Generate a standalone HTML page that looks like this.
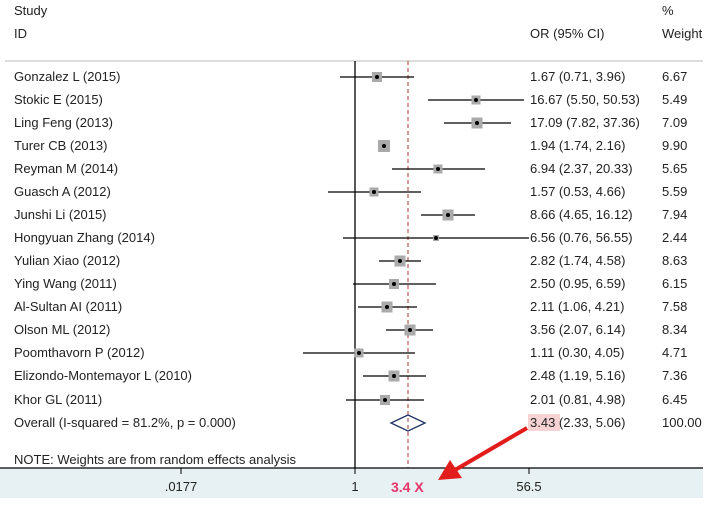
<!DOCTYPE html>
<html><head><meta charset="utf-8"><style>
html,body{margin:0;padding:0;background:#fff;}
svg text{font-family:"Liberation Sans",Arial,sans-serif;font-size:13px;fill:#222;}
</style></head><body>
<svg width="727" height="507" viewBox="0 0 727 507" xmlns="http://www.w3.org/2000/svg">
<rect x="0" y="468" width="703" height="30" fill="#e7f0f2"/>
<text x="14" y="15">Study</text>
<text x="14" y="38">ID</text>
<text x="662" y="15">%</text>
<text x="530" y="38">OR (95% CI)</text>
<text x="662" y="38">Weight</text>
<line x1="5" y1="61" x2="703" y2="61" stroke="#bbb" stroke-width="1"/>
<line x1="355" y1="61" x2="355" y2="468" stroke="#000" stroke-width="1.3"/>
<line x1="408" y1="61" x2="408" y2="468" stroke="#a33" stroke-width="1" stroke-dasharray="4,3"/>
<line x1="0" y1="468" x2="703" y2="468" stroke="#000" stroke-width="1.2"/>
<line x1="181" y1="468" x2="181" y2="474" stroke="#000"/>
<line x1="355" y1="468" x2="355" y2="474" stroke="#000"/>
<line x1="529" y1="468" x2="529" y2="474" stroke="#000"/>
<text x="181" y="491" text-anchor="middle">.0177</text>
<text x="355" y="491" text-anchor="middle">1</text>
<text x="529" y="491" text-anchor="middle">56.5</text>
<text x="391" y="492" style="fill:#e8336a;font-size:14px;font-weight:bold">3.4 X</text>
<g stroke="#000" stroke-width="1.2">
<line x1="340" y1="77" x2="414" y2="77"/>
<line x1="428" y1="100" x2="524" y2="100"/>
<line x1="444" y1="123" x2="511" y2="123"/>
<line x1="379" y1="146" x2="388" y2="146"/>
<line x1="392" y1="169" x2="485" y2="169"/>
<line x1="328" y1="192" x2="421" y2="192"/>
<line x1="421" y1="215" x2="475" y2="215"/>
<line x1="343" y1="238" x2="529" y2="238"/>
<line x1="379" y1="261" x2="421" y2="261"/>
<line x1="353" y1="284" x2="436" y2="284"/>
<line x1="358" y1="307" x2="417" y2="307"/>
<line x1="386" y1="330" x2="433" y2="330"/>
<line x1="303" y1="353" x2="415" y2="353"/>
<line x1="363" y1="376" x2="426" y2="376"/>
<line x1="346" y1="400" x2="424" y2="400"/>
</g>
<g fill="#aaa">
<rect x="372" y="72" width="10" height="10"/>
<rect x="471.5" y="95.5" width="9" height="9"/>
<rect x="471.5" y="117.5" width="11" height="11"/>
<rect x="378" y="140" width="12" height="12"/>
<rect x="433.5" y="164.5" width="9" height="9"/>
<rect x="369.5" y="187.5" width="9" height="9"/>
<rect x="442.5" y="209.5" width="11" height="11"/>
<rect x="433" y="235" width="6" height="6"/>
<rect x="394.5" y="255.5" width="11" height="11"/>
<rect x="389" y="279" width="10" height="10"/>
<rect x="381.5" y="301.5" width="11" height="11"/>
<rect x="404.5" y="324.5" width="11" height="11"/>
<rect x="354.5" y="348.5" width="9" height="9"/>
<rect x="388.5" y="370.5" width="11" height="11"/>
<rect x="380" y="395" width="10" height="10"/>
</g>
<g fill="#000">
<circle cx="377" cy="77" r="2"/><circle cx="476" cy="100" r="2"/><circle cx="477" cy="123" r="2"/>
<circle cx="384" cy="146" r="2"/><circle cx="438" cy="169" r="2"/><circle cx="374" cy="192" r="2"/>
<circle cx="448" cy="215" r="2"/><circle cx="436" cy="238" r="2"/><circle cx="400" cy="261" r="2"/>
<circle cx="394" cy="284" r="2"/><circle cx="387" cy="307" r="2"/><circle cx="410" cy="330" r="2"/>
<circle cx="359" cy="353" r="2"/><circle cx="394" cy="376" r="2"/><circle cx="385" cy="400" r="2"/>
</g>
<polygon points="391,423 408,415 425,423 408,431" fill="none" stroke="#223366" stroke-width="1.3"/>
<g>
<text x="14" y="81">Gonzalez L  (2015)</text>
<text x="14" y="104">Stokic E (2015)</text>
<text x="14" y="127">Ling Feng (2013)</text>
<text x="14" y="150">Turer CB  (2013)</text>
<text x="14" y="173">Reyman M  (2014)</text>
<text x="14" y="196">Guasch A  (2012)</text>
<text x="14" y="219">Junshi Li (2015)</text>
<text x="14" y="242">Hongyuan Zhang (2014)</text>
<text x="14" y="265">Yulian Xiao (2012)</text>
<text x="14" y="288">Ying Wang (2011)</text>
<text x="14" y="311">Al-Sultan AI (2011)</text>
<text x="14" y="334">Olson ML  (2012)</text>
<text x="14" y="357">Poomthavorn P  (2012)</text>
<text x="14" y="380">Elizondo-Montemayor L (2010)</text>
<text x="14" y="404">Khor GL  (2011)</text>
<text x="14" y="427">Overall  (I-squared = 81.2%, p = 0.000)</text>
<text x="14" y="464">NOTE: Weights are from random effects analysis</text>
</g>
<rect x="528" y="414" width="32" height="17" fill="#f8d3d3"/>
<g>
<text x="530" y="81">1.67 (0.71, 3.96)</text><text x="662" y="81">6.67</text>
<text x="530" y="104">16.67 (5.50, 50.53)</text><text x="662" y="104">5.49</text>
<text x="530" y="127">17.09 (7.82, 37.36)</text><text x="662" y="127">7.09</text>
<text x="530" y="150">1.94 (1.74, 2.16)</text><text x="662" y="150">9.90</text>
<text x="530" y="173">6.94 (2.37, 20.33)</text><text x="662" y="173">5.65</text>
<text x="530" y="196">1.57 (0.53, 4.66)</text><text x="662" y="196">5.59</text>
<text x="530" y="219">8.66 (4.65, 16.12)</text><text x="662" y="219">7.94</text>
<text x="530" y="242">6.56 (0.76, 56.55)</text><text x="662" y="242">2.44</text>
<text x="530" y="265">2.82 (1.74, 4.58)</text><text x="662" y="265">8.63</text>
<text x="530" y="288">2.50 (0.95, 6.59)</text><text x="662" y="288">6.15</text>
<text x="530" y="311">2.11 (1.06, 4.21)</text><text x="662" y="311">7.58</text>
<text x="530" y="334">3.56 (2.07, 6.14)</text><text x="662" y="334">8.34</text>
<text x="530" y="357">1.11 (0.30, 4.05)</text><text x="662" y="357">4.71</text>
<text x="530" y="380">2.48 (1.19, 5.16)</text><text x="662" y="380">7.36</text>
<text x="530" y="404">2.01 (0.81, 4.98)</text><text x="662" y="404">6.45</text>
<text x="530" y="427">3.43 (2.33, 5.06)</text><text x="662" y="427">100.00</text>
</g>
<line x1="527" y1="428" x2="455" y2="470" stroke="#e21b1b" stroke-width="4"/>
<polygon points="438,480 450,460 462,478" fill="#e21b1b"/>
</svg>
</body></html>
